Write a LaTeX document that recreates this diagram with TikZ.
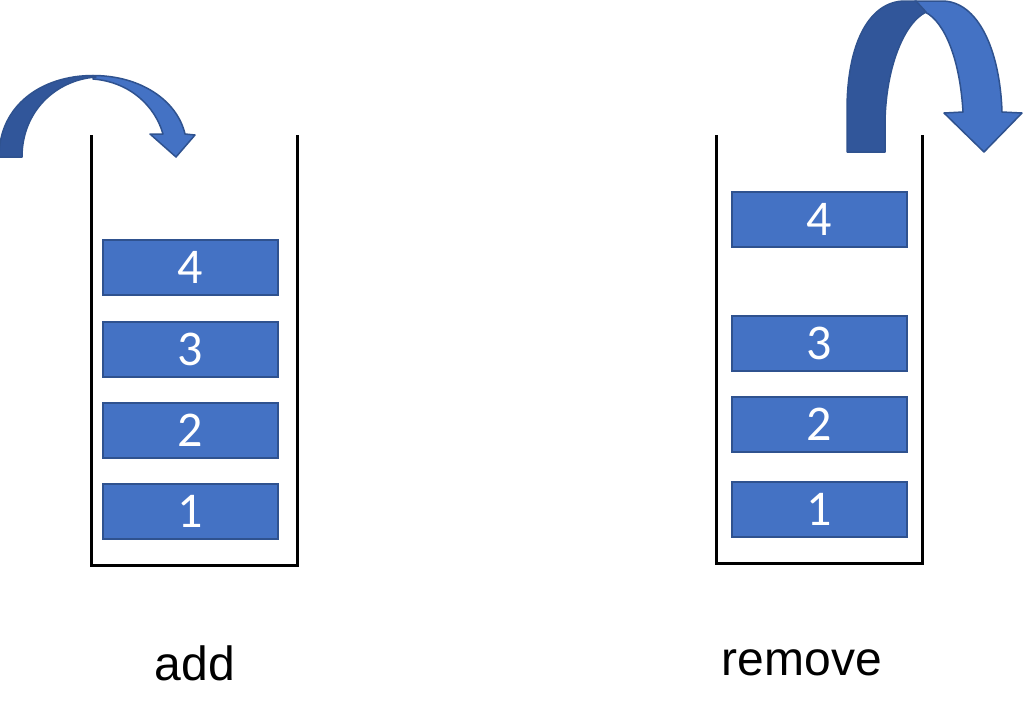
\documentclass[tikz,border=0pt]{standalone}
\usepackage{fontspec}
\setmainfont{Liberation Sans}
\newfontfamily\boxfont{Carlito}
\definecolor{boxblue}{HTML}{4472C4}
\definecolor{boxedge}{HTML}{2F528F}
\definecolor{darkblue}{HTML}{31569A}
\begin{document}
\begin{tikzpicture}[x=1pt,y=-1pt,
  stackbox/.style={draw=boxedge,line width=2pt,fill=boxblue,text=white,
    minimum width=175pt,minimum height=55pt,inner sep=0pt,
    font=\boxfont\fontsize{50}{54}\selectfont},
  wall/.style={draw=black,line width=3pt},
  lbl/.style={font=\fontsize{48}{54}\selectfont,text=black},
  arrowlight/.style={fill=boxblue,draw=boxedge,line width=1.5pt,line join=round},
  arrowdark/.style={fill=darkblue,draw=boxedge,line width=1.5pt,line join=round}]
\useasboundingbox (0,0) rectangle (1024,720);
\fill[white] (0,0) rectangle (1024,720);
% left container
\draw[wall] (91,135) -- (91,565) -- (297,565) -- (297,135);
\node[stackbox] (l4) at (190.5,267.5) {4};
\node[stackbox] (l3) at (190.5,349.5) {3};
\node[stackbox] (l2) at (190.5,430.5) {2};
\node[stackbox] (l1) at (190.5,511.5) {1};
\node[lbl] (ladd) at (195,663) {add};
% right container
\draw[wall] (716,135) -- (716,563) -- (922,563) -- (922,135);
\node[stackbox] (r4) at (819.5,219.5) {4};
\node[stackbox] (r3) at (819.5,343.5) {3};
\node[stackbox] (r2) at (819.5,424.5) {2};
\node[stackbox] (r1) at (819.5,509.5) {1};
\node[lbl] (rrem) at (802,663) {remove};
% left curved arrow
\path[arrowlight] (93,75.5) .. controls (140,75.5) and (177,100) .. (185,134)
  -- (195,135) -- (176,157) -- (150,134) -- (163,134)
  .. controls (155,106) and (130,82) .. (93,79) -- cycle;
\path[arrowdark] (-1,157) .. controls (-1,105) and (42,75.5) .. (93,75.5)
  -- (96,77) .. controls (55,80) and (22,112) .. (22,157) -- cycle;
% right curved arrow
\path[arrowlight] (915,1) -- (942,1) .. controls (978,1) and (1000,50) .. (1002,112)
  -- (1022,113) -- (984,152) -- (944,113) -- (963,112)
  .. controls (960,60) and (945,22) .. (925,12) -- cycle;
\path[arrowdark] (847,152) -- (847,110) .. controls (847,42) and (870,1) .. (905,1)
  -- (916,1) -- (926,12) .. controls (901,25) and (885,75) .. (885,125)
  -- (885,152) -- cycle;
\end{tikzpicture}
\end{document}
